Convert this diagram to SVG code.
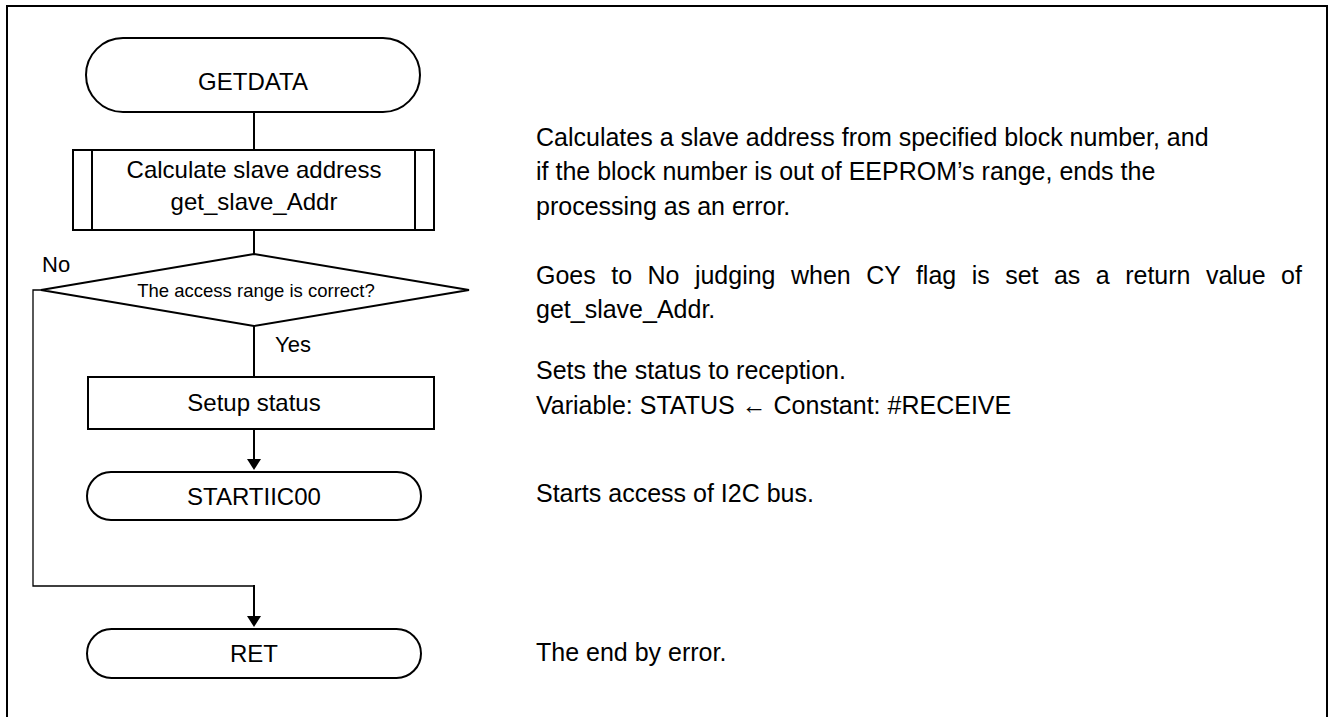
<svg xmlns="http://www.w3.org/2000/svg" width="1328" height="717" viewBox="0 0 1328 717">
<style>
.s{fill:#fff;stroke:#000;stroke-width:2}
.c{fill:none;stroke:#000;stroke-width:2}
.t{font-family:"Liberation Sans",Arial,sans-serif;fill:#000;font-size:24px}
.m{text-anchor:middle}
.d{font-size:18.5px}
.l{font-size:22px}
.r{font-family:"Liberation Sans",Arial,sans-serif;fill:#000;font-size:25px}
</style>
<rect width="1328" height="717" fill="#fff"/>
<rect x="7" y="6" width="1320" height="720" fill="none" stroke="#000" stroke-width="2"/>
<g id="connectors">
<line class="c" x1="254" y1="112" x2="254" y2="150"/>
<line class="c" x1="254" y1="230" x2="254" y2="254"/>
<line class="c" x1="254" y1="326" x2="254" y2="377"/>
<line class="c" x1="254" y1="429" x2="254" y2="460"/>
<path d="M247,459 L261,459 L254,470 Z" fill="#000"/>
<polyline fill="none" stroke="#000" stroke-width="1.3" points="41,290 33,290 33,586 254,586"/>
<line class="c" x1="254" y1="585" x2="254" y2="617"/>
<path d="M247,616 L261,616 L254,627 Z" fill="#000"/>
<text class="t l" x="42" y="272">No</text>
<text class="t l" x="275" y="352">Yes</text>
</g>
<g id="getdata">
<rect class="s" x="86" y="38" width="334" height="74" rx="37" ry="37"/>
<text class="t m" x="253" y="90">GETDATA</text>
</g>
<g id="calc">
<rect class="s" x="73" y="150" width="361" height="80"/>
<line class="c" x1="92" y1="150" x2="92" y2="230"/>
<line class="c" x1="415" y1="150" x2="415" y2="230"/>
<text class="t m" x="254" y="178">Calculate slave address</text>
<text class="t m" x="254" y="210">get_slave_Addr</text>
</g>
<g id="decision">
<polygon class="s" points="254,254 469,290 254,326 41,290"/>
<text class="t m d" x="256" y="297">The access range is correct?</text>
</g>
<g id="setup">
<rect class="s" x="88" y="377" width="346" height="52"/>
<text class="t m" x="254" y="411">Setup status</text>
</g>
<g id="startiic">
<rect class="s" x="87" y="472" width="334" height="48" rx="24" ry="24"/>
<text class="t m" x="254" y="505">STARTIIC00</text>
</g>
<g id="ret">
<rect class="s" x="87" y="629" width="334" height="49" rx="24.5" ry="24.5"/>
<text class="t m" x="254" y="662">RET</text>
</g>
<g id="notes">
<text class="r" x="536" y="146">Calculates a slave address from specified block number, and</text>
<text class="r" x="536" y="180">if the block number is out of EEPROM’s range, ends the</text>
<text class="r" x="536" y="215">processing as an error.</text>
<text class="r" x="536" y="284" word-spacing="8.5">Goes to No judging when CY flag is set as a return value of</text>
<text class="r" x="536" y="318">get_slave_Addr.</text>
<text class="r" x="536" y="379">Sets the status to reception.</text>
<text class="r" x="536" y="414">Variable: STATUS ← Constant: #RECEIVE</text>
<text class="r" x="536" y="502">Starts access of I2C bus.</text>
<text class="r" x="536" y="661">The end by error.</text>
</g>
</svg>
